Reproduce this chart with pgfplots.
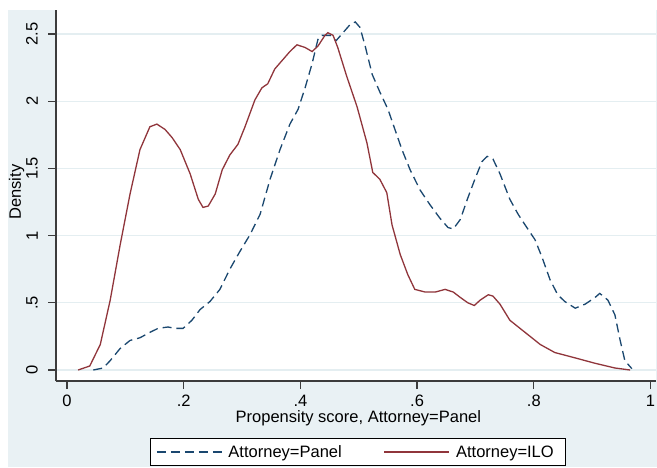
\documentclass[border=0pt]{standalone}
\usepackage{fontspec}
\setmainfont{Liberation Sans}
\usepackage{pgfplots}
\pgfplotsset{compat=1.18}
\definecolor{stbg}{RGB}{233,241,244}
\definecolor{stgrid}{RGB}{228,238,241}
\definecolor{stnavy}{RGB}{26,71,111}
\definecolor{stmaroon}{RGB}{144,53,59}
\definecolor{staxis}{RGB}{60,60,60}

\begin{document}
\begin{tikzpicture}
\path[use as bounding box] (-56pt,-86pt) rectangle (601pt,381pt);
\fill[stbg] (-48pt,-86pt) rectangle (601pt,371pt);
\begin{axis}[
    scale only axis,
    width=600pt, height=371pt,
    xmin=-0.0189, xmax=1.0094,
    ymin=-0.0818, ymax=2.679,
    axis x line*=bottom, axis y line*=left,
    axis line style={staxis, line width=1.3pt, -},
    axis background/.style={fill=white},
    tick align=outside,
    major tick length=8pt,
    tick style={staxis, line width=1.3pt},
    xtick={0,0.2,0.4,0.6,0.8,1},
    xticklabels={0,.2,.4,.6,.8,1},
    ytick={0,0.5,1,1.5,2,2.5},
    yticklabels={0,.5,1,1.5,2,2.5},
    ymajorgrids,
    grid style={stgrid, line width=1.2pt},
    /pgf/number format/assume math mode=true,
    tick label style={font=\fontsize{16.5}{19}\selectfont},
    label style={font=\fontsize{16.5}{19}\selectfont},
    yticklabel style={rotate=90, anchor=south, inner sep=0pt},
    yticklabel shift=10pt,
    xticklabel style={anchor=north, inner sep=0pt},
    xticklabel shift=6pt,
    xlabel={Propensity score, Attorney=Panel},
    ylabel={Density},
    xlabel style={at={(axis description cs:0.504,-0.1125)}, anchor=base},
    ylabel style={at={(axis description cs:-0.0585,0.509)}, anchor=base},
    legend columns=2,
    legend style={at={(axis description cs:0.5033,-0.1536)}, anchor=north,
        draw=black, line width=0.8pt, fill=white,
        font=\fontsize{16.5}{19}\selectfont,
        inner xsep=6pt, inner ysep=5pt,
        /tikz/every even column/.append style={column sep=36pt},
        nodes={inner xsep=6pt}},
    legend image code/.code={\draw[#1] (0pt,0pt) -- (65pt,0pt);},
]
\addplot[stnavy, line width=1.3pt, dash pattern=on 9pt off 5pt] coordinates {
(0.045,0) (0.062,0.015) (0.074,0.07) (0.091,0.16) (0.108,0.22) (0.125,0.24)
(0.142,0.28) (0.156,0.31) (0.173,0.32) (0.185,0.31) (0.199,0.31) (0.214,0.37)
(0.228,0.45) (0.245,0.51) (0.262,0.60) (0.279,0.75) (0.296,0.88) (0.314,1.01)
(0.331,1.16) (0.348,1.42) (0.365,1.64) (0.382,1.83) (0.396,1.94) (0.408,2.10)
(0.420,2.28) (0.430,2.46) (0.437,2.49) (0.451,2.49) (0.461,2.45) (0.473,2.51)
(0.485,2.57) (0.494,2.59) (0.502,2.55) (0.511,2.41) (0.523,2.20) (0.536,2.07)
(0.550,1.94) (0.562,1.79) (0.574,1.64) (0.588,1.49) (0.605,1.34) (0.622,1.23)
(0.639,1.13) (0.653,1.06) (0.662,1.05) (0.674,1.12) (0.686,1.27) (0.699,1.42)
(0.711,1.55) (0.720,1.59) (0.730,1.57) (0.742,1.46) (0.759,1.27) (0.773,1.16)
(0.785,1.08) (0.802,0.97) (0.814,0.84) (0.828,0.67) (0.841,0.56) (0.853,0.51)
(0.871,0.46) (0.888,0.49) (0.905,0.54) (0.913,0.57) (0.927,0.52) (0.939,0.41)
(0.948,0.22) (0.956,0.07) (0.968,0.01)
};
\addlegendentry{Attorney=Panel}
\addplot[stmaroon, line width=1.3pt] coordinates {
(0.019,0) (0.039,0.03) (0.057,0.19) (0.074,0.52) (0.091,0.93) (0.108,1.31)
(0.125,1.64) (0.142,1.81) (0.154,1.83) (0.168,1.79) (0.180,1.73) (0.194,1.64)
(0.211,1.46) (0.225,1.27) (0.233,1.21) (0.242,1.22) (0.254,1.31) (0.266,1.49)
(0.279,1.60) (0.293,1.68) (0.305,1.81) (0.322,2.01) (0.334,2.10) (0.344,2.13)
(0.356,2.24) (0.370,2.31) (0.382,2.37) (0.394,2.42) (0.408,2.40) (0.420,2.37)
(0.430,2.41) (0.442,2.49) (0.447,2.51) (0.456,2.49) (0.464,2.40) (0.479,2.19)
(0.497,1.96) (0.514,1.69) (0.524,1.47) (0.536,1.42) (0.548,1.32) (0.557,1.08)
(0.571,0.86) (0.584,0.71) (0.596,0.60) (0.614,0.58) (0.631,0.58) (0.648,0.60)
(0.662,0.58) (0.674,0.54) (0.687,0.50) (0.698,0.48) (0.708,0.52) (0.722,0.56)
(0.730,0.55) (0.742,0.49) (0.759,0.37) (0.785,0.28) (0.811,0.19) (0.836,0.13)
(0.871,0.09) (0.905,0.05) (0.939,0.015) (0.965,0)
};
\addlegendentry{Attorney=ILO}
\end{axis}
\end{tikzpicture}
\end{document}
